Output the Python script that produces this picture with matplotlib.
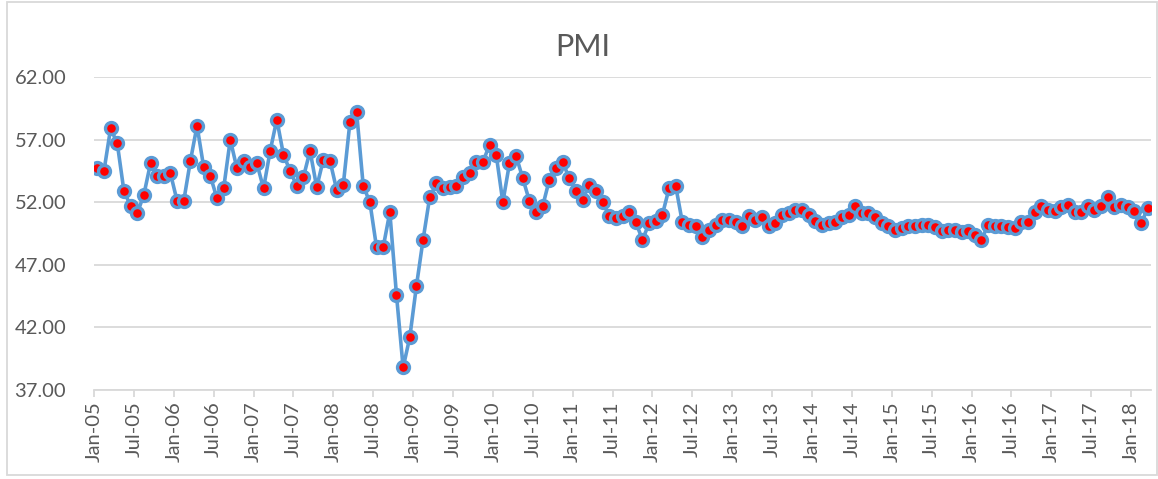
import matplotlib
matplotlib.use("Agg")
import matplotlib.pyplot as plt
from matplotlib.patches import Rectangle

# --- данни: PMI, месечно, Jan-05 .. Mar-18 ---
pmi_2005 = [54.7, 54.5, 57.9, 56.7, 52.9, 51.7, 51.1, 52.6, 55.1, 54.1, 54.1, 54.3]
pmi_2006 = [52.1, 52.1, 55.3, 58.1, 54.8, 54.1, 52.3, 53.1, 57.0, 54.7, 55.3, 54.8]
pmi_2007 = [55.1, 53.1, 56.1, 58.6, 55.8, 54.5, 53.3, 54.0, 56.1, 53.2, 55.4, 55.3]
pmi_2008 = [53.0, 53.4, 58.4, 59.2, 53.3, 52.0, 48.4, 48.4, 51.2, 44.6, 38.8, 41.2]
pmi_2009 = [45.3, 49.0, 52.4, 53.5, 53.1, 53.2, 53.3, 54.0, 54.3, 55.2, 55.2, 56.6]
pmi_2010 = [55.8, 52.0, 55.1, 55.7, 53.9, 52.1, 51.2, 51.7, 53.8, 54.7, 55.2, 53.9]
pmi_2011 = [52.9, 52.2, 53.4, 52.9, 52.0, 50.9, 50.7, 50.9, 51.2, 50.4, 49.0, 50.3]
pmi_2012 = [50.5, 51.0, 53.1, 53.3, 50.4, 50.2, 50.1, 49.2, 49.8, 50.2, 50.6, 50.6]
pmi_2013 = [50.4, 50.1, 50.9, 50.6, 50.8, 50.1, 50.3, 51.0, 51.1, 51.4, 51.4, 51.0]
pmi_2014 = [50.5, 50.2, 50.3, 50.4, 50.8, 51.0, 51.7, 51.1, 51.1, 50.8, 50.3, 50.1]
pmi_2015 = [49.8, 49.9, 50.1, 50.1, 50.2, 50.2, 50.0, 49.7, 49.8, 49.8, 49.6, 49.7]
pmi_2016 = [49.4, 49.0, 50.2, 50.1, 50.1, 50.0, 49.9, 50.4, 50.4, 51.2, 51.7, 51.4]
pmi_2017 = [51.3, 51.6, 51.8, 51.2, 51.2, 51.7, 51.4, 51.7, 52.4, 51.6, 51.8, 51.6]
pmi_2018 = [51.3, 50.3, 51.5]

pmi = (pmi_2005 + pmi_2006 + pmi_2007 + pmi_2008 + pmi_2009 + pmi_2010 + pmi_2011
       + pmi_2012 + pmi_2013 + pmi_2014 + pmi_2015 + pmi_2016 + pmi_2017 + pmi_2018)

tick_labels = []
for yy in range(5, 19):
    tick_labels += [f"Jan-{yy:02d}", f"Jul-{yy:02d}"]
tick_labels = tick_labels[:27]  # до Jan-18

TEXT = "#595959"
GRID = "#d9d9d9"
BLUE = "#5B9BD5"

plt.rcParams['font.family'] = ['Lato', 'DejaVu Sans']

fig = plt.figure(figsize=(11.58, 4.79), dpi=100)
ax = fig.add_axes([94 / 1158, 1 - 390 / 479, (1151 - 94) / 1158, (390 - 77) / 479])

x = list(range(len(pmi)))
ax.plot(x, pmi, color=BLUE, linewidth=2.6, marker='o', markersize=8.6,
        markerfacecolor='red', markeredgecolor=BLUE, markeredgewidth=2.4, zorder=3)

ax.set_xlim(-0.5, len(pmi) - 0.5)
ax.set_ylim(37, 62)
ax.set_yticks([37, 42, 47, 52, 57, 62])
ax.set_yticklabels([f"{v:.2f}" for v in [37, 42, 47, 52, 57, 62]])
ax.set_xticks([i * 6 - 0.5 for i in range(len(tick_labels))])
ax.set_xticklabels(tick_labels, rotation=90)

ax.grid(axis='y', color=GRID, linewidth=1.3)
ax.set_axisbelow(True)
for s in ['top', 'right', 'left']:
    ax.spines[s].set_visible(False)
ax.spines['bottom'].set_color(GRID)
ax.spines['bottom'].set_linewidth(1.3)
ax.tick_params(axis='y', length=0, pad=20, labelsize=14.5, labelcolor=TEXT)
ax.tick_params(axis='x', length=5, width=1.3, color=GRID, pad=3, labelsize=14.5, labelcolor=TEXT)

fig.text(583 / 1158, 1 - 47 / 479, "PMI", ha='center', va='center', fontsize=22, color=TEXT)

# рамка на диаграмата
fig.patches.append(Rectangle((7.5 / 1158, 1 - 475 / 479), 1149 / 1158, 473 / 479,
                             transform=fig.transFigure, fill=False, edgecolor=GRID, linewidth=1.3))

fig.savefig("out.png", dpi=100)
